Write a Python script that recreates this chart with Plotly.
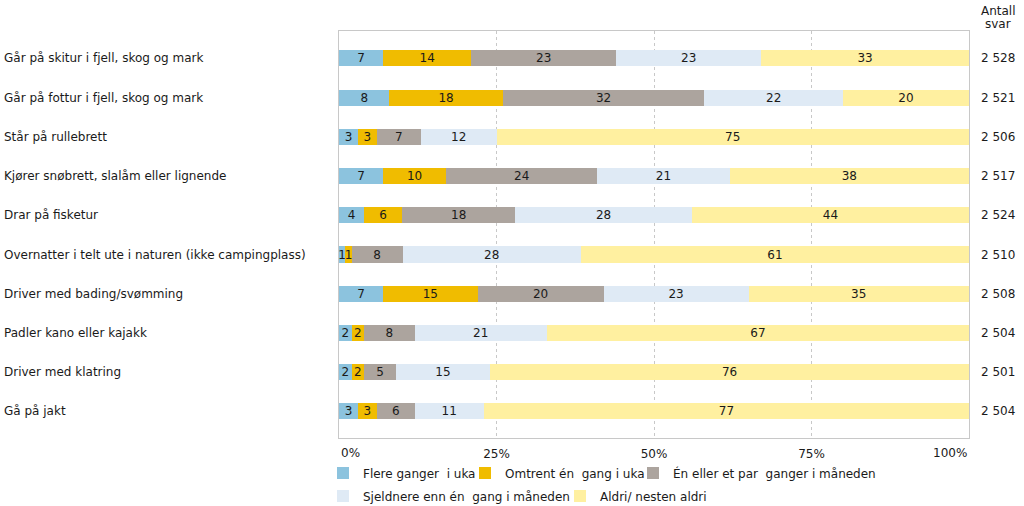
import plotly.graph_objects as go

categories = [
    "Går på skitur i fjell, skog og mark",
    "Går på fottur i fjell, skog og mark",
    "Står på rullebrett",
    "Kjører snøbrett, slalåm eller lignende",
    "Drar på fisketur",
    "Overnatter i telt ute i naturen (ikke campingplass)",
    "Driver med bading/svømming",
    "Padler kano eller kajakk",
    "Driver med klatring",
    "Gå på jakt",
]
series_names = [
    "Flere ganger\u00a0 i uka",
    "Omtrent én\u00a0 gang i uka",
    "Én eller et par\u00a0 ganger i måneden",
    "Sjeldnere enn én\u00a0 gang i måneden",
    "Aldri/ nesten aldri",
]
flere = [7, 8, 3, 7, 4, 1, 7, 2, 2, 3]
omtrent = [14, 18, 3, 10, 6, 1, 15, 2, 2, 3]
en_eller = [23, 32, 7, 24, 18, 8, 20, 8, 5, 6]
sjeldnere = [23, 22, 12, 21, 28, 28, 23, 21, 15, 11]
aldri = [33, 20, 75, 38, 44, 61, 35, 67, 76, 77]
antall = ["2 528", "2 521", "2 506", "2 517", "2 524", "2 510", "2 508", "2 504", "2 501", "2 504"]
header = ["Antall", "svar"]
x_ticks = [0, 25, 50, 75, 100]
x_ticklabels = ["0%", "25%", "50%", "75%", "100%"]

colors = ["#8cc3de", "#f0bc00", "#aca49e", "#dfeaf5", "#fff0a0"]
legend_ids = ["legend", "legend2", "legend3", "legend4", "legend5"]
FONT = "Verdana, DejaVu Sans, sans-serif"
TXT = "#1a1a1a"
FS = 12

W, H = 1024, 506
PL, PR, PT, PB = 339, 969, 31, 438  # plot area in pixels

fig = go.Figure()
for name, vals, col, lg in zip(series_names, [flere, omtrent, en_eller, sjeldnere, aldri],
                               colors, legend_ids):
    fig.add_trace(go.Bar(
        y=categories, x=vals, name=name, orientation="h", legend=lg,
        marker=dict(color=col, line=dict(width=0)),
        text=[str(v) for v in vals], textposition="inside",
        insidetextanchor="middle", textangle=0,
        textfont=dict(color=TXT, size=FS, family=FONT),
        width=0.41,
    ))

pw = PR - PL
annotations = []
for cat, n in zip(categories, antall):
    annotations.append(dict(xref="paper", yref="y", x=(2 - PL) / pw, y=cat,
                            text=cat, showarrow=False, xanchor="left",
                            font=dict(size=FS, color=TXT, family=FONT)))
    annotations.append(dict(xref="paper", yref="y", x=1, xshift=10, y=cat,
                            text=n, showarrow=False, xanchor="left",
                            font=dict(size=FS, color=TXT, family=FONT)))
for txt, yc in zip(header, [11, 24]):
    annotations.append(dict(xref="paper", yref="paper", x=1, xshift=29, y=1,
                            yshift=PT - yc, text=txt, showarrow=False,
                            xanchor="center", yanchor="middle",
                            font=dict(size=FS, color=TXT, family=FONT)))
annotations.append(dict(xref="paper", yref="paper", x=0, y=0, yshift=-6,
                        text=x_ticklabels[0], showarrow=False, xanchor="left",
                        yanchor="top", font=dict(size=FS, color=TXT, family=FONT)))
annotations.append(dict(xref="paper", yref="paper", x=1, y=0, yshift=-6,
                        text=x_ticklabels[-1], showarrow=False, xanchor="right",
                        yanchor="top", font=dict(size=FS, color=TXT, family=FONT)))

legend_common = dict(orientation="h", xref="container", yref="container",
                     xanchor="left", yanchor="middle", bgcolor="rgba(0,0,0,0)",
                     font=dict(size=FS, family=FONT, color=TXT),
                     itemclick=False, itemdoubleclick=False)
# symbol left edge and row centre (pixels) of each legend entry
legend_pos = [(339, 473), (481, 473), (649, 473), (339, 496), (576, 496)]
legends = {}
for lg, (sx, sy) in zip(legend_ids, legend_pos):
    legends[lg] = dict(x=(sx - 16) / W, y=1 - sy / H, **legend_common)

fig.update_layout(
    width=W, height=H,
    barmode="stack", barnorm="percent",
    margin=dict(l=PL, r=W - PR, t=PT, b=H - PB, autoexpand=False),
    paper_bgcolor="white", plot_bgcolor="white",
    font=dict(family=FONT, size=FS, color=TXT),
    uniformtext=dict(mode="show", minsize=FS),
    showlegend=True,
    annotations=annotations,
    xaxis=dict(range=[0, 100], tickvals=x_ticks[1:-1], ticktext=x_ticklabels[1:-1],
               showgrid=True, gridcolor="#c8c8c8", griddash="3px,3px", gridwidth=1,
               showline=True, linecolor="#c8c8c8", mirror=True, zeroline=False,
               ticks="", ticklabelstandoff=5, fixedrange=True, automargin=False),
    yaxis=dict(range=[9.68, -0.7], showticklabels=False, showgrid=False,
               showline=True, linecolor="#c8c8c8", mirror=True, ticks="",
               fixedrange=True, automargin=False),
    **legends,
)

fig.write_html("out.html", config={"displayModeBar": False},
               post_script="document.body.style.margin='0';")
